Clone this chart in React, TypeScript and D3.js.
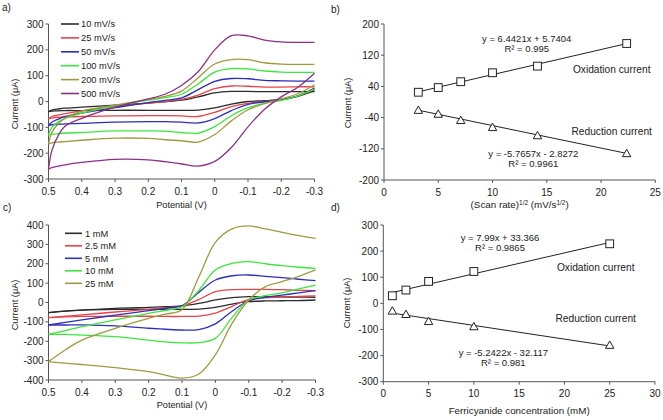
import React from 'react';
import * as d3 from 'd3';

const FONT = '"Liberation Sans", Arial, sans-serif';

// ---------- Panel a: CV at different scan rates ----------
const potentialsA = [0.5, 0.49, 0.47, 0.45, 0.4, 0.3, 0.2, 0.15, 0.1, 0.05, 0, -0.05, -0.1, -0.15, -0.2, -0.25, -0.3];
const scanRateLabels = ['10 mV/s', '25 mV/s', '50 mV/s', '100 mV/s', '200 mV/s', '500 mV/s'];
const upper10 = [-39, -33, -29, -26, -22, -14, -6, -1, 5, 18, 33, 39, 39, 38, 38, 38, 38];
const lower10 = [-39, -37, -36, -35, -35, -34, -34, -34, -34, -33, -25, -10, 0, 3, 8, 20, 42];
const upper25 = [-67, -58, -52, -47, -36, -20, -6, 0, 8, 25, 50, 60, 59, 56, 56, 57, 57];
const lower25 = [-67, -64, -61, -60, -58, -56, -55, -55, -56, -58, -42, -20, -7, 0, 6, 22, 47];
const upper50 = [-92, -80, -68, -58, -45, -24, -4, 4, 14, 46, 78, 89, 88, 82, 80, 79, 79];
const lower50 = [-92, -90, -88, -87, -85, -80, -78, -78, -80, -83, -66, -35, -11, -1, 6, 22, 52];
const upper100 = [-130, -100, -78, -65, -45, -17, 5, 15, 28, 68, 114, 127, 126, 118, 114, 113, 113];
const lower100 = [-130, -127, -124, -122, -120, -114, -114, -115, -120, -122, -97, -55, -24, -7, 4, 22, 48];
const upper200 = [-165, -120, -85, -65, -37, -14, 8, 20, 40, 92, 145, 162, 162, 150, 145, 144, 144];
const lower200 = [-165, -160, -157, -155, -150, -142, -143, -148, -152, -157, -128, -75, -32, -8, 10, 30, 65];
const upper500 = [-262, -190, -130, -95, -65, -22, 10, 28, 62, 115, 200, 255, 254, 238, 231, 229, 229];
const lower500 = [-262, -256, -250, -245, -236, -224, -226, -233, -242, -250, -232, -178, -98, -30, 18, 55, 109];
const upperA = [upper10, upper25, upper50, upper100, upper200, upper500];
const lowerA = [lower10, lower25, lower50, lower100, lower200, lower500];
const yTicksA = [-300, -200, -100, 0, 100, 200, 300];

// ---------- Panel c: CV at different concentrations ----------
const potentialsC = [0.5, 0.45, 0.4, 0.3, 0.2, 0.15, 0.1, 0.05, 0, -0.05, -0.1, -0.15, -0.2, -0.25, -0.3];
const concLabels = ['1 mM', '2.5 mM', '5 mM', '10 mM', '25 mM'];
const upper1 = [-52, -44, -39, -30, -25, -22, -18, -5, 13, 25, 30, 30, 29, 28, 27];
const lower1 = [-52, -44, -39, -35, -35, -35, -35, -34, -25, -8, 4, 8, 9, 10, 13];
const upper2p5 = [-78, -71, -64, -49, -35, -27, -18, 15, 56, 66, 68, 68, 66, 63, 61];
const lower2p5 = [-78, -74, -72, -71, -71, -72, -72, -70, -55, -20, 16, 25, 28, 31, 34];
const upper5 = [-116, -103, -90, -65, -42, -30, -16, 52, 116, 138, 142, 135, 128, 120, 113];
const lower5 = [-116, -116, -116, -121, -133, -138, -142, -140, -110, -45, 9, 27, 38, 50, 61];
const upper10mM = [-165, -145, -125, -90, -56, -40, -22, 62, 168, 202, 211, 200, 190, 182, 176];
const lower10mM = [-165, -165, -168, -176, -194, -203, -208, -207, -185, -78, 13, 35, 50, 70, 90];
const upper25mM = [-305, -245, -194, -133, -82, -60, -38, 130, 310, 380, 395, 380, 362, 345, 331];
const lower25mM = [-305, -313, -320, -336, -357, -375, -390, -370, -270, -108, 13, 82, 108, 135, 168];
const upperC = [upper1, upper2p5, upper5, upper10mM, upper25mM];
const lowerC = [lower1, lower2p5, lower5, lower10mM, lower25mM];
const yTicksC = [-400, -300, -200, -100, 0, 100, 200, 300, 400];

const xTicksCV = [0.5, 0.4, 0.3, 0.2, 0.1, 0, -0.1, -0.2, -0.3];

// ---------- Panel b ----------
const scanRates = [10, 25, 50, 100, 200, 500];
const oxB = [25, 37, 52, 75, 92, 150];
const redB = [-21, -31, -47, -65, -86, -132];
const fitOxB = { m: 6.4421, b: 5.7404, r2: '0.995' };
const fitRedB = { m: -5.7657, b: -2.8272, r2: '0.9961' };
const xTicksB = [0, 5, 10, 15, 20, 25];
const yTicksB = [-200, -120, -40, 40, 120, 200];

// ---------- Panel d ----------
const concentrations = [1, 2.5, 5, 10, 25];
const oxD = [29, 51, 84, 122, 228];
const redD = [-29, -42, -69, -89, -160];
const fitOxD = { m: 7.99, b: 33.366, r2: '0.9865' };
const fitRedD = { m: -5.2422, b: -32.117, r2: '0.981' };
const xTicksD = [0, 5, 10, 15, 20, 25, 30];
const yTicksD = [-300, -200, -100, 0, 100, 200, 300];

const cvColors = ['#2b2b2b', '#e5454a', '#2e2eb8', '#3de63d', '#9e9a40', '#8b3088'];
const AXIS = '#555';

const fmtTick = (v: number) => String(Math.round(v * 10) / 10);
const eqText = (f: { m: number; b: number }) =>
  `y = ${f.m}x ${f.b < 0 ? '-' : '+'} ${Math.abs(f.b)}`;

function Axes({ xs, ys, xTicks, yTicks, xAxisY, yAxisX }: any) {
  const [x0, x1] = xs.range();
  const [yb, yt] = ys.range();
  return (
    <g fontFamily={FONT} fontSize={10} fill="#222">
      <line x1={yAxisX} x2={yAxisX} y1={yt} y2={yb} stroke={AXIS} strokeWidth={1} />
      <line x1={x0} x2={x1} y1={xAxisY} y2={xAxisY} stroke={AXIS} strokeWidth={1} />
      {yTicks.map((t: number) => (
        <g key={'y' + t}>
          <line x1={yAxisX - 3} x2={yAxisX} y1={ys(t)} y2={ys(t)} stroke={AXIS} />
          <text x={yAxisX - 5} y={ys(t)} dy="0.35em" textAnchor="end">{fmtTick(t)}</text>
        </g>
      ))}
      {xTicks.map((t: number) => (
        <g key={'x' + t}>
          <line x1={xs(t)} x2={xs(t)} y1={xAxisY} y2={xAxisY + 3} stroke={AXIS} />
          <text x={xs(t)} y={xAxisY + 12} dy="0.35em" textAnchor="middle">{fmtTick(t)}</text>
        </g>
      ))}
    </g>
  );
}

function CVPanel({ xr, yr, yDomain, yTicks, potentials, uppers, lowers, labels, legend, xLabelY, yLabel, tag }: any) {
  const xs = d3.scaleLinear().domain([0.5, -0.3]).range(xr);
  const ys = d3.scaleLinear().domain(yDomain).range(yr);
  const line = d3
    .line<[number, number]>()
    .x((d) => xs(d[0]))
    .y((d) => ys(d[1]))
    .curve(d3.curveCatmullRom.alpha(0.5));
  const mk = (vals: number[]) => line(potentials.map((p: number, i: number) => [p, vals[i]] as [number, number])) || '';
  return (
    <g>
      <Axes xs={xs} ys={ys} xTicks={xTicksCV} yTicks={yTicks} xAxisY={yr[0]} yAxisX={xr[0]} />
      {uppers.map((u: number[], i: number) => (
        <g key={i}>
          <path d={mk(u)} fill="none" stroke={cvColors[i]} strokeWidth={1.3} />
          <path d={mk(lowers[i])} fill="none" stroke={cvColors[i]} strokeWidth={1.3} />
        </g>
      ))}
      <g fontFamily={FONT} fontSize={legend.fs} fill="#222">
        {labels.map((l: string, i: number) => (
          <g key={l}>
            <line x1={legend.x1} x2={legend.x2} y1={legend.y0 + i * legend.dy} y2={legend.y0 + i * legend.dy} stroke={cvColors[i]} strokeWidth={1.6} />
            <text x={legend.tx} y={legend.y0 + i * legend.dy} dy="0.35em">{l}</text>
          </g>
        ))}
      </g>
      <text x={(xr[0] + xr[1]) / 2} y={xLabelY} textAnchor="middle" fontFamily={FONT} fontSize={9.2} fill="#222">Potential (V)</text>
      <text transform={`translate(${yLabel[0]},${yLabel[1]}) rotate(-90)`} textAnchor="middle" dy="0.35em" fontFamily={FONT} fontSize={9.2} fill="#222">Current (μA)</text>
      <text x={tag[0]} y={tag[1]} fontFamily={FONT} fontSize={10} fill="#222">{tag[2]}</text>
    </g>
  );
}

function Square({ x, y }: any) {
  return <rect x={x - 3.9} y={y - 3.9} width={7.8} height={7.8} fill="white" stroke="#222" strokeWidth={1} />;
}
function Tri({ x, y }: any) {
  return <path d={`M${x},${y - 4.2}L${x + 4.2},${y + 3.2}L${x - 4.2},${y + 3.2}Z`} fill="white" stroke="#222" strokeWidth={1} />;
}

function FitPanel({ xr, yr, xDomain, yDomain, xTicks, yTicks, xv, ox, red, fitOx, fitRed, txt, xLabel, xLabelY, yLabel, tag }: any) {
  const xs = d3.scaleLinear().domain(xDomain).range(xr);
  const ys = d3.scaleLinear().domain(yDomain).range(yr);
  const xa = d3.min(xv) as number;
  const xb = d3.max(xv) as number;
  const fitLine = (f: any) => (
    <line x1={xs(xa)} y1={ys(f.m * xa + f.b)} x2={xs(xb)} y2={ys(f.m * xb + f.b)} stroke="#222" strokeWidth={1} />
  );
  const T = (p: number[], s: string, fs = 9.5) => (
    <text x={p[0]} y={p[1]} dy="0.35em" textAnchor="middle" fontFamily={FONT} fontSize={fs} fill="#222">{s}</text>
  );
  return (
    <g>
      <Axes xs={xs} ys={ys} xTicks={xTicks} yTicks={yTicks} xAxisY={yr[0]} yAxisX={xr[0]} />
      {fitLine(fitOx)}
      {fitLine(fitRed)}
      {xv.map((x: number, i: number) => <Square key={'s' + i} x={xs(x)} y={ys(ox[i])} />)}
      {xv.map((x: number, i: number) => <Tri key={'t' + i} x={xs(x)} y={ys(red[i])} />)}
      {T(txt.eq1, eqText(fitOx))}
      {T(txt.r1, `R² = ${fitOx.r2}`)}
      {T(txt.oxi, 'Oxidation current', 10.2)}
      {T(txt.red, 'Reduction current', 10.2)}
      {T(txt.eq2, eqText(fitRed))}
      {T(txt.r2, `R² = ${fitRed.r2}`)}
      <text x={(xr[0] + xr[1]) / 2} y={xLabelY} textAnchor="middle" fontFamily={FONT} fontSize={9.8} fill="#222">{xLabel}</text>
      <text transform={`translate(${yLabel[0]},${yLabel[1]}) rotate(-90)`} textAnchor="middle" dy="0.35em" fontFamily={FONT} fontSize={9.2} fill="#222">Current (μA)</text>
      <text x={tag[0]} y={tag[1]} fontFamily={FONT} fontSize={10} fill="#222">{tag[2]}</text>
    </g>
  );
}

export default function App() {
  const sqrtRates = scanRates.map((r) => Math.sqrt(r));
  const scanLabel = (
    <>
      (Scan rate)<tspan fontSize={6.5} dy={-3.5}>1/2</tspan>
      <tspan dy={3.5}> (mV/s</tspan>
      <tspan fontSize={6.5} dy={-3.5}>1/2</tspan>
      <tspan dy={3.5}>)</tspan>
    </>
  );
  return (
    <svg width={663} height={420} style={{ position: 'absolute', left: 0, top: 0, background: 'white' }}>
      <rect width={663} height={420} fill="white" />
      <CVPanel
        xr={[48.5, 314.5]}
        yr={[179, 24]}
        yDomain={[-300, 300]}
        yTicks={yTicksA}
        potentials={potentialsA}
        uppers={upperA}
        lowers={lowerA}
        labels={scanRateLabels}
        legend={{ x1: 61, x2: 79, tx: 81, y0: 24, dy: 13.9, fs: 9.3 }}
        xLabelY={207.5}
        yLabel={[15, 104]}
        tag={[2, 11, 'a)']}
      />
      <CVPanel
        xr={[48.5, 315.5]}
        yr={[380, 225]}
        yDomain={[-400, 400]}
        yTicks={yTicksC}
        potentials={potentialsC}
        uppers={upperC}
        lowers={lowerC}
        labels={concLabels}
        legend={{ x1: 65, x2: 82, tx: 85, y0: 233.3, dy: 12.5, fs: 9.3 }}
        xLabelY={407.5}
        yLabel={[15, 305]}
        tag={[3, 210.5, 'c)']}
      />
      <FitPanel
        xr={[384, 655.3]}
        yr={[180, 24]}
        xDomain={[0, 25]}
        yDomain={[-200, 200]}
        xTicks={xTicksB}
        yTicks={yTicksB}
        xv={sqrtRates}
        ox={oxB}
        red={redB}
        fitOx={fitOxB}
        fitRed={fitRedB}
        txt={{ eq1: [526.7, 38.3], r1: [526.7, 48.3], oxi: [611.7, 69], red: [611.7, 131], eq2: [533.3, 154], r2: [533.3, 164] }}
        xLabel={scanLabel}
        xLabelY={208}
        yLabel={[348, 103]}
        tag={[331, 12.5, 'b)']}
      />
      <FitPanel
        xr={[383.3, 655]}
        yr={[381.7, 225]}
        xDomain={[0, 30]}
        yDomain={[-300, 300]}
        xTicks={xTicksD}
        yTicks={yTicksD}
        xv={concentrations}
        ox={oxD}
        red={redD}
        fitOx={fitOxD}
        fitRed={fitRedD}
        txt={{ eq1: [500, 237.3], r1: [500, 247.3], oxi: [595.7, 267.3], red: [595.7, 318], eq2: [503.3, 352.7], r2: [503.3, 362.7] }}
        xLabel="Ferricyanide concentration (mM)"
        xLabelY={414}
        yLabel={[347, 303]}
        tag={[331, 210.5, 'd)']}
      />
    </svg>
  );
}
